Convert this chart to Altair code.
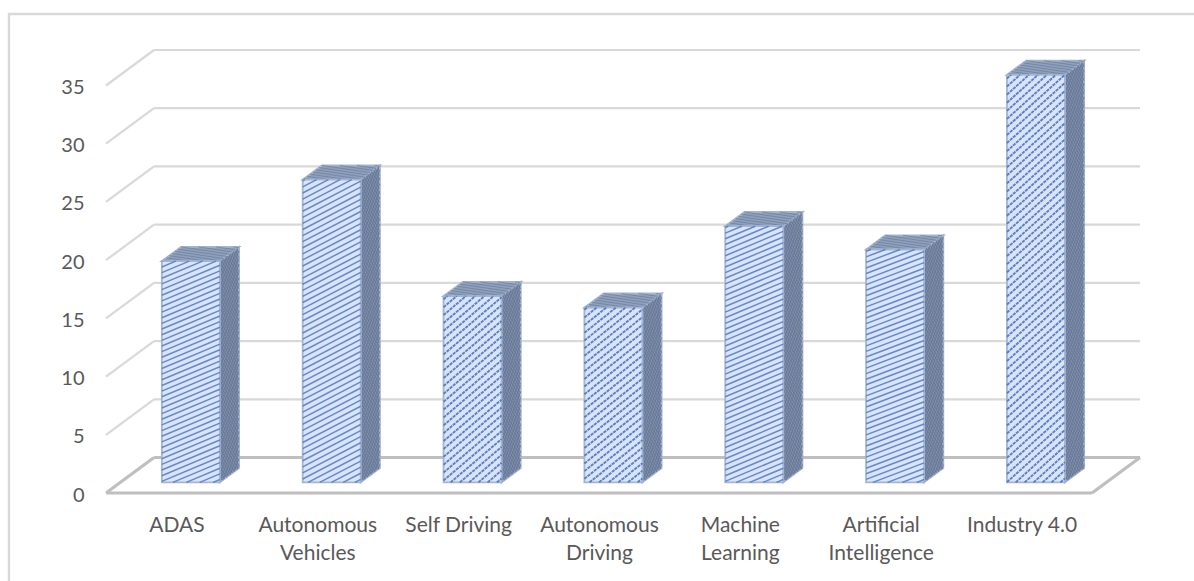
import altair as alt
import numpy as np
import pandas as pd

categories = ["ADAS", "Autonomous|Vehicles", "Self Driving", "Autonomous|Driving",
              "Machine|Learning", "Artificial|Intelligence", "Industry 4.0"]
values = [19, 26, 16, 15, 22, 20, 35]
y_ticks = [0, 5, 10, 15, 20, 25, 30, 35]

# Hatch slope (rise over run), spacing in px and dash flag for each bar's front face.
hatch_slopes = [0.42, 0.52, 0.85, 0.8, 0.42, 0.38, 0.9]
hatch_gaps = [5.2, 5.4, 6.0, 6.0, 5.2, 5.2, 6.0]
hatch_dotted = [False, False, True, True, False, False, True]

# Oblique projection: one category and one value unit in px, and the depth vector.
PX_CAT = 986 / 7
PX_VAL = 407.5 / 35
DEPTH_PX = (48.0, 35.5)
DEPTH_CAT = DEPTH_PX[0] / PX_CAT
DEPTH_VAL = DEPTH_PX[1] / PX_VAL
BAR_HALF = 29 / PX_CAT
NEAR, FAR = 0.30, 0.70  # bar extent along the depth axis

X_MAX = 7 + DEPTH_CAT
Y_MAX = 35 + DEPTH_VAL
PLOT_W = X_MAX * PX_CAT
PLOT_H = Y_MAX * PX_VAL


def project(cat, val, depth):
    return cat + depth * DEPTH_CAT, val + depth * DEPTH_VAL


def clip_line(poly, slope, c):
    """Intersect the line v = slope*u + c with a convex polygon given in px."""
    pts = []
    n = len(poly)
    for i in range(n):
        (u0, v0), (u1, v1) = poly[i], poly[(i + 1) % n]
        f0 = v0 - slope * u0 - c
        f1 = v1 - slope * u1 - c
        if f0 * f1 < 0 or f0 == 0:
            t = f0 / (f0 - f1)
            pts.append((u0 + t * (u1 - u0), v0 + t * (v1 - v0)))
    if len(pts) >= 2:
        pts.sort()
        return pts[0], pts[-1]
    return None


def hatch(quad, slope, gap):
    """Parallel segments across a face; the quad is given in data units."""
    poly = [(x * PX_CAT, y * PX_VAL) for x, y in quad]
    cs = [v - slope * u for u, v in poly]
    step = gap * np.sqrt(1 + slope ** 2)
    rows = []
    for c in np.arange(min(cs) + step / 2, max(cs), step):
        seg = clip_line(poly, slope, c)
        if seg:
            (u0, v0), (u1, v1) = seg
            rows.append({"x": u0 / PX_CAT, "x2": u1 / PX_CAT,
                         "y": v0 / PX_VAL, "y2": v1 / PX_VAL})
    return rows


front_rows, side_rows, top_rows = [], [], []
solid_hatch, dotted_hatch, side_hatch, top_hatch = [], [], [], []
for i, v in enumerate(values):
    cx = i + 0.5
    l, r = cx - BAR_HALF, cx + BAR_HALF
    # Front face corners.
    x0, b0 = project(l, 0, NEAR)
    x1, _ = project(r, 0, NEAR)
    _, t0 = project(l, v, NEAR)
    # Back-right edge.
    x2, b2 = project(r, 0, FAR)
    _, t2 = project(r, v, FAR)
    x3, _ = project(l, v, FAR)

    front_rows.append({"x": x0, "x2": x1, "y": b0, "y2": t0})
    # Side face: vertical edges, so an area between two sloped edges draws it.
    side_rows += [{"bar": i, "x": x1, "y": b0, "y2": t0},
                  {"bar": i, "x": x2, "y": b2, "y2": t2}]
    # Top face: horizontal edges, drawn as a horizontal-running area.
    top_rows += [{"bar": i, "y": t0, "x": x0, "x2": x1},
                 {"bar": i, "y": t2, "x": x3, "x2": x2}]

    target = dotted_hatch if hatch_dotted[i] else solid_hatch
    target += hatch([(x0, b0), (x1, b0), (x1, t0), (x0, t0)],
                    hatch_slopes[i], hatch_gaps[i])
    side_hatch += hatch([(x1, b0), (x2, b2), (x2, t2), (x1, t0)], -1.6, 2.4)
    side_hatch += hatch([(x1, b0), (x2, b2), (x2, t2), (x1, t0)], 2.6, 2.4)
    top_hatch += hatch([(x0, t0), (x1, t0), (x2, t2), (x3, t2)], -0.15, 2.6)

# Wall gridlines: slanted from the front plane, then along the back plane.
wall_rows = []
for t in y_ticks[1:]:
    bx, by = project(0, t, 1)
    wall_rows.append({"x": 0, "y": t, "x2": bx, "y2": by})
    wall_rows.append({"x": bx, "y": by, "x2": X_MAX, "y2": by})

# Floor parallelogram outline.
bx0, by0 = project(0, 0, 1)
bx1, by1 = project(7, 0, 1)
floor_rows = [
    {"x": 0, "y": 0, "x2": 7, "y2": 0},
    {"x": 0, "y": 0, "x2": bx0, "y2": by0},
    {"x": 7, "y": 0, "x2": bx1, "y2": by1},
    {"x": bx0, "y": by0, "x2": bx1, "y2": by1},
]

x_scale = alt.Scale(domain=[0, X_MAX], nice=False, zero=False)
y_scale = alt.Scale(domain=[0, Y_MAX], nice=False, zero=False)

X = alt.X("x:Q", scale=x_scale, title=None)
Y = alt.Y("y:Q", scale=y_scale, title=None)


def segments(rows, color, width, opacity=1.0, dash=None):
    mark = dict(color=color, strokeWidth=width, opacity=opacity)
    if dash:
        mark["strokeDash"] = dash
    return alt.Chart(pd.DataFrame(rows)).mark_rule(**mark).encode(
        x=X, x2="x2:Q", y=Y, y2="y2:Q"
    )


OUTLINE = "#a3b5d1"

labels_expr = "split(" + str(categories) + "[floor(datum.value)], '|')"

axes = alt.Chart(pd.DataFrame({"x": [0.5], "y": [0]})).mark_point(opacity=0).encode(
    x=alt.X("x:Q", scale=x_scale, title=None,
            axis=alt.Axis(values=[i + 0.5 for i in range(7)], labelExpr=labels_expr,
                          domain=False, ticks=False, grid=False, labelPadding=21,
                          labelFontSize=21, labelColor="#595959", labelFont="Lato",
                          labelLineHeight=28, labelAlign="center", labelBaseline="top",
                          labelFlush=False, labelOverlap=False, labelBound=False)),
    y=alt.Y("y:Q", scale=y_scale, title=None,
            axis=alt.Axis(values=y_ticks, format="d", domain=False, ticks=False, grid=False,
                          labelPadding=22, labelOffset=2, labelFontSize=20,
                          labelColor="#595959", labelFont="Lato", labelOverlap=False)),
)

# Chart-area border: only the top and left edges fall inside the page.
frame = alt.Chart(pd.DataFrame({"k": [0]})).mark_rect(
    fill=None, stroke="#d9d9d9", strokeWidth=2.4, clip=False
).encode(
    x=alt.value(-97), x2=alt.value(1200),
    y=alt.value(-36), y2=alt.value(600),
)

side = alt.Chart(pd.DataFrame(side_rows)).mark_area(
    color="#7f90ad", stroke=OUTLINE, strokeWidth=1.8
).encode(x=X, y=Y, y2="y2:Q", detail="bar:N")

top = alt.Chart(pd.DataFrame(top_rows)).mark_area(
    color="#8ea0bc", stroke=OUTLINE, strokeWidth=1.8, orient="horizontal"
).encode(y=Y, x=X, x2="x2:Q", detail="bar:N")

front = alt.Chart(pd.DataFrame(front_rows)).mark_rect(
    fill="#d9e4f6", stroke=OUTLINE, strokeWidth=1.8
).encode(x=X, x2="x2:Q", y=Y, y2="y2:Q")

chart = alt.layer(
    axes,
    frame,
    segments(wall_rows, "#d9d9d9", 2.2),
    segments(floor_rows, "#bfbfbf", 3.2),
    side,
    top,
    segments(side_hatch, "#5f6f8e", 0.9, 0.7),
    segments(top_hatch, "#66768f", 1.0, 0.6),
    front,
    segments(solid_hatch, "#5079c8", 1.5, 0.85),
    segments(dotted_hatch, "#4a74c6", 1.9, 0.9, dash=[3.2, 0.9]),
).resolve_scale(x="shared", y="shared").properties(
    width=PLOT_W, height=PLOT_H,
    padding={"left": 106, "top": 50, "right": 1194 - 106 - PLOT_W,
             "bottom": 581 - 50 - PLOT_H},
    autosize=alt.AutoSizeParams(type="none"),
    background="white",
).configure_view(stroke=None)

chart.save("out.html", embed_options={"renderer": "svg", "actions": False})
